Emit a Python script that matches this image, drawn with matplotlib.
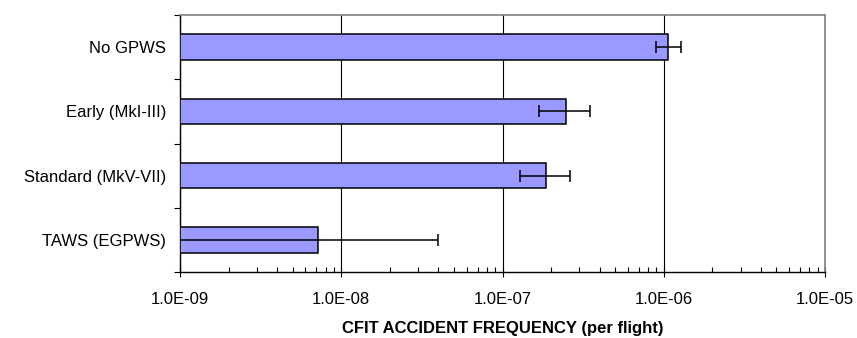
import matplotlib
matplotlib.use("Agg")
import matplotlib.pyplot as plt
import numpy as np
from matplotlib.ticker import LogLocator, FixedLocator, NullFormatter

plt.rcParams['font.family'] = ['Liberation Sans', 'DejaVu Sans']

categories = ["No GPWS", "Early (MkI-III)", "Standard (MkV-VII)", "TAWS (EGPWS)"]
values = [1.07e-6, 2.46e-7, 1.86e-7, 7.2e-9]
lower = [8.9e-7, 1.68e-7, 1.28e-7, 5e-10]
upper = [1.28e-6, 3.5e-7, 2.63e-7, 4.0e-8]
tick_labels = ["1.0E-09", "1.0E-08", "1.0E-07", "1.0E-06", "1.0E-05"]
xlabel = "CFIT ACCIDENT FREQUENCY (per flight)"

fig = plt.figure(figsize=(8.57, 3.38), dpi=100)
ax = fig.add_axes([180/857, 1-272/338, (825-180)/857, (272-15)/338])

y = np.arange(len(categories))
vals = np.array(values)
xerr = np.vstack([vals - np.array(lower), np.array(upper) - vals])

ax.set_xscale('log')
ax.set_xlim(1e-9, 1e-5)
ax.set_ylim(len(categories) - 0.5, -0.5)

base = 1e-9
ax.barh(y, vals - base, height=0.40, left=base, color='#9999FF', edgecolor='black',
        linewidth=1.1, zorder=3)
ax.errorbar(vals, y, xerr=xerr, fmt='none', ecolor='black', elinewidth=1.1,
            capsize=4.5, capthick=1.1, zorder=4)

major = [1e-9, 1e-8, 1e-7, 1e-6, 1e-5]
ax.xaxis.set_major_locator(FixedLocator(major))
ax.set_xticklabels(tick_labels)
ax.xaxis.set_minor_locator(LogLocator(base=10, subs=np.arange(2, 10)))
ax.xaxis.set_minor_formatter(NullFormatter())
ax.grid(axis='x', which='major', color='black', linewidth=0.8, zorder=0)

ax.set_yticks(y)
ax.set_yticklabels(categories)
ax.yaxis.set_minor_locator(FixedLocator(np.arange(-0.5, len(categories), 1.0)))

ax.tick_params(axis='x', which='major', direction='inout', length=7, width=0.8,
               pad=11, labelsize=12, colors='black')
ax.tick_params(axis='x', which='minor', direction='in', length=3.5, width=0.8)
ax.tick_params(axis='y', which='major', length=0, pad=10, labelsize=12)
ax.tick_params(axis='y', which='minor', direction='out', length=4, width=0.8)

for s in ['top', 'right']:
    ax.spines[s].set_color('#808080')
    ax.spines[s].set_linewidth(1.2)
for s in ['left', 'bottom']:
    ax.spines[s].set_color('black')
    ax.spines[s].set_linewidth(1.0)

ax.set_xlabel(xlabel, fontsize=12, fontweight='bold', labelpad=10)

fig.savefig("out.png", dpi=100)
